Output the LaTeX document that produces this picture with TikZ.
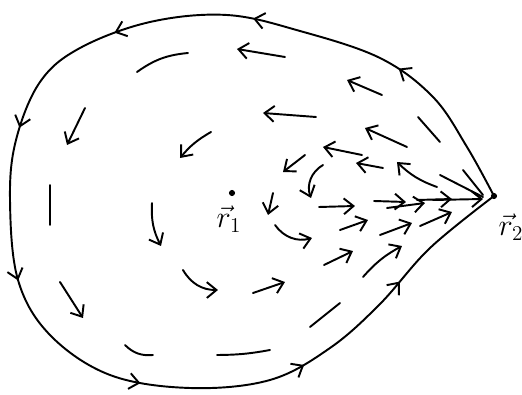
\documentclass[tikz,border=0pt]{standalone}
\usetikzlibrary{arrows.meta,decorations.markings}

\begin{document}
\begin{tikzpicture}[x=0.02cm,y=-0.02cm,line cap=round,line join=round,font=\LARGE,
  fl/.style={line width=1.1pt},
  vec/.style={fl,-{Straight Barb[length=5.5pt,width=9pt]}},
  spot/.style={circle,fill=black,inner sep=0pt,minimum size=3.5pt},
  bdtips/.style={postaction={decorate,decoration={markings,
    mark=at position 0.12 with {\arrow{Straight Barb[length=5.5pt,width=9pt]}},
    mark=at position 0.235 with {\arrow{Straight Barb[length=5.5pt,width=9pt]}},
    mark=at position 0.34 with {\arrow{Straight Barb[length=5.5pt,width=9pt]}},
    mark=at position 0.445 with {\arrow{Straight Barb[length=5.5pt,width=9pt]}},
    mark=at position 0.56 with {\arrow{Straight Barb[length=5.5pt,width=9pt]}},
    mark=at position 0.685 with {\arrow{Straight Barb[length=5.5pt,width=9pt]}},
    mark=at position 0.81 with {\arrow{Straight Barb[length=5.5pt,width=9pt]}},
    mark=at position 0.905 with {\arrow{Straight Barb[length=5.5pt,width=9pt]}}}}},
]
\useasboundingbox (0,0) rectangle (522,395);

% ---------------- the two points ----------------
\coordinate (r1) at (232,193);
\coordinate (r2) at (494,196);
\node[spot] (p1) at (r1) {}; \node[spot] (p2) at (r2) {};
\node (l1) at (229,219) {$\vec{r}_1$};
\node (l2) at (511,227) {$\vec{r}_2$};

% ---------------- closed field line through r2 ----------------
\draw[fl,bdtips] plot[smooth,tension=0.6] coordinates {
  (494,196) (467,147) (433,97) (380,58) (300,31) (227,15) (150,22)
  (80,48) (40,82) (16,140) (10,200) (18,280) (50,335) (110,375)
  (190,388) (270,380) (330,348) (380,304) (430,248) (494,196)};

% ---------------- upper half: flow leaving r2 ----------------
\draw[vec] (285,57) -- (237,49);
\draw[fl] (188,53) to[bend right=15] (137,72);
\draw[vec] (382,95) -- (347,80);
\draw[vec] (316,117) -- (263,113);
\draw[vec] (85,108) -- (67,145);
\draw[vec] (211,132) to[bend right=10] (180,158);
\draw[fl] (418,117) -- (440,142);
\draw[vec] (407,147) -- (365,128);
\draw[vec] (362,155) -- (323,147);
\draw[vec] (305,155) -- (283,172);
\draw[vec] (383,168) -- (356,163);
\draw[vec] (437,187) to[bend left=12] (397,162);
\draw[vec] (323,165) to[bend right=40] (311,198);
\draw[fl] (440,175) -- (483,197);
\draw[fl] (463,170) -- (483,195);

% ---------------- left half: flow going down ----------------
\draw[fl] (50,185) -- (50,225);
\draw[vec] (152,203) to[bend right=15] (161,246);
\draw[vec] (273,193) -- (268,215);
\draw[vec] (60,282) -- (83,318);

% ---------------- lower half: flow coming back to r2 ----------------
\draw[vec] (275,225) to[bend right=35] (312,238);
\draw[vec] (183,270) to[bend right=30] (218,290);
\draw[vec] (253,293) -- (285,282);
\draw[vec] (319,207) -- (355,206);
\draw[vec] (374,201) -- (406,202);
\draw[vec] (387,208) -- (425,203);
\draw[vec] (417,200) -- (452,199);
\draw[vec] (433,200) -- (483,199);
\draw[vec] (340,230) -- (368,220);
\draw[vec] (380,235) -- (412,223);
\draw[vec] (420,226) -- (452,212);
\draw[vec] (324,265) -- (353,251);
\draw[vec] (363,277) to[bend left=10] (402,246);
\draw[fl] (310,327) -- (340,303);
\draw[fl] (125,345) to[bend right=25] (153,355);
\draw[fl] (217,355) to[bend right=5] (270,350);
\end{tikzpicture}
\end{document}
